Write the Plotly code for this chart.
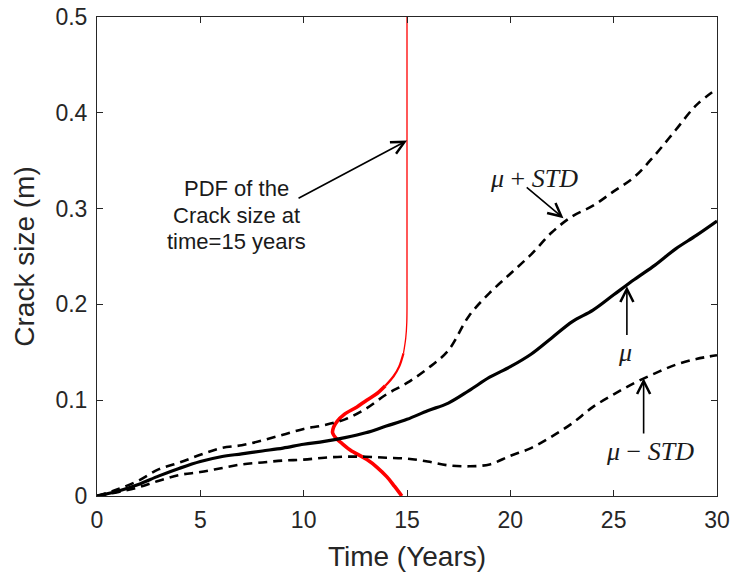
import plotly.graph_objects as go

# Time axis (years)
time_years = list(range(0, 31))

# Mean crack size and mean +/- one standard deviation (m)
crack_mean = [0.000, 0.005, 0.012, 0.021, 0.029, 0.036, 0.041, 0.044, 0.047, 0.050,
              0.054, 0.057, 0.061, 0.066, 0.073, 0.080, 0.089, 0.097, 0.110, 0.124,
              0.135, 0.148, 0.165, 0.182, 0.194, 0.210, 0.226, 0.241, 0.258, 0.272,
              0.287]
crack_upper = [0.000, 0.007, 0.016, 0.028, 0.035, 0.043, 0.050, 0.053, 0.058, 0.064,
               0.070, 0.074, 0.080, 0.091, 0.106, 0.118, 0.133, 0.152, 0.188, 0.212,
               0.232, 0.252, 0.275, 0.292, 0.303, 0.318, 0.333, 0.356, 0.382, 0.408,
               0.425]
crack_lower = [0.000, 0.004, 0.009, 0.016, 0.022, 0.025, 0.029, 0.033, 0.035, 0.037,
               0.038, 0.040, 0.041, 0.041, 0.040, 0.039, 0.036, 0.032, 0.031, 0.033,
               0.042, 0.050, 0.062, 0.076, 0.093, 0.106, 0.118, 0.128, 0.137, 0.143,
               0.147]

# PDF of the crack size at t = 15 years, drawn sideways from the t = 15 line
pdf_crack = [0.000, 0.010, 0.020, 0.030, 0.038, 0.048, 0.055, 0.060, 0.066, 0.072,
             0.078, 0.085, 0.093, 0.100, 0.107, 0.115, 0.125, 0.135, 0.149, 0.165,
             0.181, 0.220, 0.300, 0.500]
pdf_time = [14.75, 14.40, 14.03, 13.55, 13.06, 12.25, 11.85, 11.58, 11.40, 11.45,
            11.62, 11.95, 12.58, 13.05, 13.55, 13.95, 14.35, 14.62, 14.83, 14.94,
            14.99, 15.00, 15.00, 15.00]

pdf_label_lines = ["PDF of the", "Crack size at", "time=15 years"]

x_ticks = [0, 5, 10, 15, 20, 25, 30]
y_ticks = [0, 0.1, 0.2, 0.3, 0.4, 0.5]

SANS = "Arial, Liberation Sans, sans-serif"
SERIF = "Times New Roman, Liberation Serif, serif"
AXIS_COLOR = "#262626"

fig = go.Figure()

# PDF: drawn heavier where the density is large, thin along the tail
pdf_segments = [(0, 15, 3.6), (15, 18, 2.2), (18, len(pdf_crack) - 1, 1.3)]
for start, stop, width in pdf_segments:
    fig.add_trace(go.Scatter(x=pdf_time[start:stop + 1], y=pdf_crack[start:stop + 1],
                             mode="lines",
                             line=dict(color="#ff0000", width=width, shape="spline"),
                             showlegend=False, hoverinfo="skip"))

fig.add_trace(go.Scatter(x=time_years, y=crack_upper, mode="lines", name="μ + STD",
                         line=dict(color="black", width=2.6, dash="9px,6px", shape="spline"),
                         showlegend=False))
fig.add_trace(go.Scatter(x=time_years, y=crack_lower, mode="lines", name="μ − STD",
                         line=dict(color="black", width=2.6, dash="9px,6px", shape="spline"),
                         showlegend=False))
fig.add_trace(go.Scatter(x=time_years, y=crack_mean, mode="lines", name="μ",
                         line=dict(color="black", width=3.2, shape="spline"),
                         showlegend=False))

annotations = []

# multi-line label for the PDF
for text, yy in zip(pdf_label_lines, [0.321, 0.293, 0.266]):
    annotations.append(dict(x=6.74, y=yy, xref="x", yref="y", text=text, showarrow=False,
                            font=dict(family=SANS, size=22, color="#1a1a1a"),
                            xanchor="center", yanchor="middle"))

# arrows: (head x, head y, tail x, tail y)
arrows = [
    (15.0, 0.371, 9.68, 0.310),
    (22.57, 0.290, 20.72, 0.3235),
    (25.64, 0.219, 25.64, 0.1666),
    (26.45, 0.123, 26.45, 0.0638),
]
for hx, hy, tx, ty in arrows:
    annotations.append(dict(x=hx, y=hy, ax=tx, ay=ty, xref="x", yref="y",
                            axref="x", ayref="y", text="", showarrow=True,
                            arrowhead=5, arrowsize=1.6, arrowwidth=1.6,
                            arrowcolor="black", standoff=0, startstandoff=0))

# Greek labels
greek = [
    ("<i>μ</i> + <i>STD</i>", 21.13, 0.331),
    ("<i>μ</i>", 25.56, 0.150),
    ("<i>μ</i> − <i>STD</i>", 26.77, 0.046),
]
for text, xx, yy in greek:
    annotations.append(dict(x=xx, y=yy, xref="x", yref="y", text=text, showarrow=False,
                            font=dict(family=SERIF, size=26, color="#1a1a1a"),
                            xanchor="center", yanchor="middle"))

fig.update_layout(
    width=734, height=577,
    margin=dict(l=97, r=17, t=17, b=81, autoexpand=False),
    paper_bgcolor="white", plot_bgcolor="white",
    annotations=annotations,
    xaxis=dict(
        range=[0, 30], tickvals=x_ticks, ticks="inside", ticklen=6, tickwidth=1,
        tickcolor=AXIS_COLOR, showline=True, linecolor=AXIS_COLOR, linewidth=1,
        mirror="ticks", showgrid=False, zeroline=False, automargin=False,
        tickfont=dict(family=SANS, size=23, color=AXIS_COLOR),
        title=dict(text="Time (Years)", font=dict(family=SANS, size=28, color=AXIS_COLOR),
                   standoff=14),
        ticklabelstandoff=3,
    ),
    yaxis=dict(
        range=[0, 0.5], tickvals=y_ticks, ticktext=["0", "0.1", "0.2", "0.3", "0.4", "0.5"],
        ticks="inside", ticklen=6, tickwidth=1,
        tickcolor=AXIS_COLOR, showline=True, linecolor=AXIS_COLOR, linewidth=1,
        mirror="ticks", showgrid=False, zeroline=False, automargin=False,
        tickfont=dict(family=SANS, size=23, color=AXIS_COLOR),
        title=dict(text="Crack size (m)", font=dict(family=SANS, size=28, color=AXIS_COLOR),
                   standoff=12),
        ticklabelstandoff=4,
    ),
)

fig.write_html("out.html")
